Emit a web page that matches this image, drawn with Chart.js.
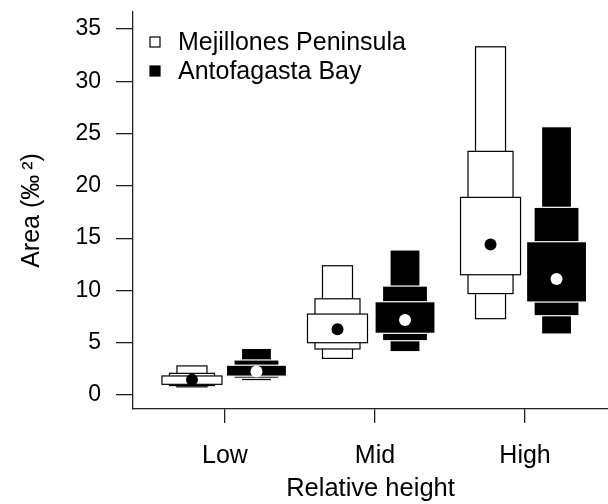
<!DOCTYPE html>
<html>
<head>
<meta charset="utf-8">
<script src="https://cdn.jsdelivr.net/npm/chart.js@4.4.1/dist/chart.umd.min.js"></script>
<style>
  html, body { margin: 0; padding: 0; background: #fff; }
  #wrap { width: 608px; height: 504px; }
</style>
</head>
<body>
<div id="wrap"><canvas id="myChart" width="608" height="504"></canvas></div>
<script>
// --- Data ---
const categories = ["Low", "Mid", "High"];
const seriesNames = ["Mejillones Peninsula", "Antofagasta Bay"];
const yTicks = [0, 5, 10, 15, 20, 25, 30, 35];

// x position of each series inside the groups
const mejPos = [0.78, 1.75, 2.77];
const antPos = [1.21, 2.20, 3.21];

// medians
const mejMedian = [1.45, 6.28, 14.4];
const antMedian = [2.25, 7.17, 11.1];

// letter values [lower, upper]: fourths, eighths, sixteenths
const mejQ = [[1.02, 1.82], [5.0, 7.74], [11.5, 18.9]];
const mejE = [[0.90, 2.07], [4.4, 9.2], [9.7, 23.3]];
const mejS = [[0.78, 2.78], [3.5, 12.36], [7.3, 33.3]];

const antQ = [[1.80, 2.85], [5.9, 8.92], [8.89, 14.66]];
const antE = [[1.60, 3.35], [5.19, 10.42], [7.58, 17.95]];
const antS = [[1.36, 4.46], [4.14, 13.87], [5.83, 25.66]];

Chart.defaults.font.family = "'Liberation Sans', Arial, sans-serif";
Chart.defaults.color = "#000";

// --- Boxes drawn through the chart scales ---
const boxPlugin = {
  id: "letterBoxes",
  beforeDatasetsDraw(chart) {
    const { ctx, chartArea } = chart;
    const x = chart.scales.x, y = chart.scales.y;
    ctx.save();
    ctx.beginPath();
    ctx.rect(chartArea.left, chartArea.top, chartArea.width, chartArea.height);
    ctx.clip();

    const drawSeries = (pos, levels, fill, stroke) => {
      levels.forEach(([vals, halfW]) => {
        vals.forEach(([lo, hi], i) => {
          const x0 = x.getPixelForValue(pos[i] - halfW);
          const x1 = x.getPixelForValue(pos[i] + halfW);
          const y0 = y.getPixelForValue(hi);
          const y1 = y.getPixelForValue(lo);
          ctx.fillStyle = fill;
          ctx.fillRect(x0, y0, x1 - x0, y1 - y0);
          ctx.strokeStyle = stroke;
          ctx.lineWidth = 1.2;
          ctx.strokeRect(x0, y0, x1 - x0, y1 - y0);
        });
      });
    };

    drawSeries(mejPos, [[mejS, 0.1], [mejE, 0.15], [mejQ, 0.2]], "#fff", "#000");
    drawSeries(antPos, [[antS, 0.1], [antE, 0.15], [antQ, 0.2]], "#000", "#fff");
    ctx.restore();
  }
};

// --- Legend inside the plot ---
const legendPlugin = {
  id: "innerLegend",
  afterDraw(chart) {
    const { ctx, chartArea } = chart;
    const left = chartArea.left + 17;
    const rows = [chartArea.top + 30, chartArea.top + 59];
    ctx.save();
    ctx.font = "25px 'Liberation Sans', Arial, sans-serif";
    ctx.textBaseline = "middle";
    seriesNames.forEach((name, i) => {
      const cy = rows[i];
      ctx.fillStyle = i === 0 ? "#fff" : "#000";
      ctx.fillRect(left, cy - 5, 10, 10);
      ctx.strokeStyle = "#000";
      ctx.lineWidth = 1.2;
      ctx.strokeRect(left, cy - 5, 10, 10);
      ctx.fillStyle = "#000";
      ctx.fillText(name, left + 28, cy + 1);
    });
    ctx.restore();
  }
};

const ctx = document.getElementById("myChart");
const chart = new Chart(ctx, {
  type: "scatter",
  data: {
    datasets: [
      {
        label: seriesNames[0],
        data: mejPos.map((p, i) => ({ x: p, y: mejMedian[i] })),
        pointRadius: 6,
        pointBackgroundColor: "#000",
        pointBorderWidth: 0
      },
      {
        label: seriesNames[1],
        data: antPos.map((p, i) => ({ x: p, y: antMedian[i] })),
        pointRadius: 6,
        pointBackgroundColor: "#fff",
        pointBorderWidth: 0
      }
    ]
  },
  options: {
    responsive: false,
    animation: false,
    devicePixelRatio: 1,
    layout: { autoPadding: false, padding: { top: 12, right: 0, left: 0, bottom: 0 } },
    plugins: { legend: { display: false }, tooltip: { enabled: false } },
    scales: {
      x: {
        type: "linear",
        min: 0.387,
        max: 3.553,
        afterBuildTicks: s => { s.ticks = [1, 2, 3].map(v => ({ value: v })); },
        afterFit: s => { s.height = 95; s.paddingLeft = 0; s.paddingRight = 0; },
        ticks: {
          callback: v => categories[v - 1],
          font: { size: 25 },
          padding: 18,
          maxRotation: 0
        },
        grid: { drawOnChartArea: false, tickLength: 14, color: "#222", lineWidth: 1.3 },
        border: { color: "#222", width: 1.3 },
        title: { display: true, text: "Relative height", font: { size: 25.5 }, padding: { top: 0, bottom: 0 } }
      },
      y: {
        type: "linear",
        min: -1.34,
        max: 36.63,
        afterBuildTicks: s => { s.ticks = yTicks.map(v => ({ value: v })); },
        afterFit: s => { s.width = 133; s.paddingTop = 0; s.paddingBottom = 0; },
        ticks: { font: { size: 23 }, padding: 15 },
        grid: { drawOnChartArea: false, tickLength: 17, color: "#222", lineWidth: 1.3 },
        border: { color: "#222", width: 1.3 },
        title: { display: true, text: "Area (‰\u2009²)", font: { size: 25 }, padding: { top: 17, bottom: 0 } }
      }
    }
  },
  plugins: [boxPlugin, legendPlugin]
});
</script>
</body>
</html>
